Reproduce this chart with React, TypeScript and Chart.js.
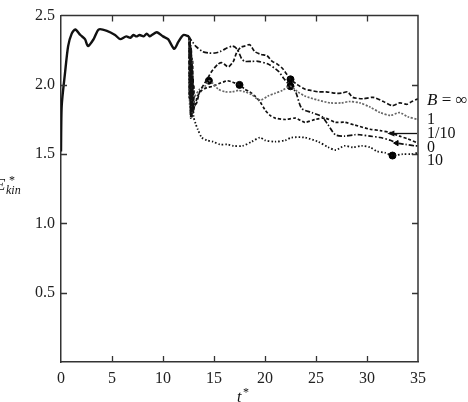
import React, { useEffect, useRef } from "react";
import { Chart, registerables } from "chart.js";

Chart.register(...registerables);

// ---- tick labels ----
const xTickValues = [0, 5, 10, 15, 20, 25, 30, 35];
const xTickLabels = ["0", "5", "10", "15", "20", "25", "30", "35"];
const yTickValues = [0.5, 1.0, 1.5, 2.0, 2.5];
const yTickLabels = ["0.5", "1.0", "1.5", "2.0", "2.5"];

// ---- common initial evolution ----
const mainT = [0, 0.07, 0.4, 0.7, 1.05, 1.4, 1.9, 2.35, 2.65, 3.2, 3.7, 4.5, 5.3, 5.8, 6.4, 6.8, 7.1, 7.4, 7.7, 8.1, 8.4, 8.7, 8.9, 9.4, 10.0, 10.5, 11.1, 11.5, 12.0, 12.55];
const mainE = [1.52, 1.85, 2.09, 2.28, 2.37, 2.40, 2.36, 2.33, 2.28, 2.33, 2.40, 2.39, 2.36, 2.33, 2.35, 2.34, 2.36, 2.35, 2.36, 2.35, 2.37, 2.35, 2.36, 2.38, 2.35, 2.33, 2.26, 2.31, 2.36, 2.35];

// ---- B = infinity ----
const infT = [12.55, 12.6, 12.65, 12.7, 12.75, 12.8, 12.85, 12.9, 12.95, 13.0, 13.1, 13.3, 13.6, 14.4, 14.8, 15.4, 15.8, 16.4, 16.9, 17.2, 17.6, 18.0, 18.5, 19.0, 19.6, 20.2, 20.7, 21.2, 21.7, 22.1, 22.5, 23.2, 23.9, 24.5, 25.2, 26.0, 26.9, 27.5, 28.1, 28.6, 29.6, 30.6, 31.6, 32.5, 33.2, 33.9, 34.4, 35];
const infE = [2.35, 1.90, 2.30, 1.80, 2.25, 1.78, 2.15, 1.80, 2.05, 1.82, 1.85, 1.87, 1.95, 2.05, 2.10, 2.15, 2.16, 2.13, 2.17, 2.23, 2.27, 2.28, 2.29, 2.24, 2.22, 2.21, 2.17, 2.15, 2.12, 2.08, 2.04, 2.00, 1.97, 1.96, 1.95, 1.95, 1.94, 1.94, 1.95, 1.91, 1.90, 1.91, 1.88, 1.85, 1.87, 1.86, 1.88, 1.90];

// ---- B = 1 ----
const oneT = [12.55, 12.62, 12.68, 12.74, 12.8, 12.86, 12.92, 13.0, 13.1, 13.6, 14.1, 14.5, 14.9, 15.4, 16.1, 16.8, 17.4, 18.0, 18.7, 19.2, 19.6, 20.3, 21.0, 21.7, 22.5, 23.2, 23.9, 25.2, 26.4, 27.5, 28.3, 29.3, 30.3, 31.3, 32.3, 33.2, 34.0, 35];
const oneE = [2.35, 1.85, 2.28, 1.80, 2.20, 1.79, 2.10, 1.86, 1.91, 1.97, 1.99, 2.03, 2.01, 1.97, 1.95, 1.95, 1.96, 1.95, 1.93, 1.90, 1.89, 1.92, 1.94, 1.96, 1.99, 1.95, 1.92, 1.89, 1.87, 1.87, 1.88, 1.87, 1.84, 1.80, 1.78, 1.80, 1.77, 1.75];

// ---- B = 1/10 ----
const tenthT = [12.55, 12.6, 12.66, 12.72, 12.78, 12.84, 12.9, 12.96, 13.02, 13.1, 13.4, 13.8, 14.3, 14.9, 15.5, 15.9, 16.3, 16.8, 17.5, 18.0, 18.5, 19.0, 19.5, 20.0, 20.5, 21.0, 22.0, 23.0, 23.9, 24.9, 25.9, 26.9, 27.8, 28.8, 30.3, 31.3, 32.3, 33.2, 34.0, 35];
const tenthE = [2.35, 1.92, 2.32, 1.76, 2.25, 1.77, 2.18, 1.80, 2.00, 1.85, 1.92, 1.96, 1.98, 1.99, 2.01, 2.02, 2.03, 2.02, 2.00, 1.97, 1.95, 1.92, 1.88, 1.82, 1.78, 1.76, 1.75, 1.76, 1.73, 1.75, 1.76, 1.73, 1.73, 1.71, 1.68, 1.67, 1.655, 1.63, 1.61, 1.58];

// ---- B = 0 ----
const zeroT = [12.55, 12.7, 12.9, 13.2, 13.9, 14.5, 15.1, 15.6, 16.1, 16.8, 17.1, 17.4, 17.7, 18.0, 18.7, 19.3, 20.3, 21.3, 21.8, 22.5, 23.0, 23.6, 24.6, 25.6, 26.2, 26.9, 27.8, 28.8, 29.3, 30.3, 31.3, 32.3, 32.9, 33.8, 34.7, 35];
const zeroE = [2.35, 2.33, 2.31, 2.28, 2.24, 2.23, 2.23, 2.24, 2.26, 2.28, 2.27, 2.24, 2.19, 2.17, 2.17, 2.17, 2.15, 2.10, 2.05, 1.99, 1.95, 1.83, 1.80, 1.77, 1.71, 1.64, 1.63, 1.64, 1.64, 1.63, 1.62, 1.60, 1.58, 1.57, 1.56, 1.56];

// ---- B = 10 ----
const tenT = [12.55, 12.6, 12.65, 12.7, 12.75, 12.8, 12.85, 12.9, 12.95, 13.0, 13.2, 13.4, 13.8, 14.3, 14.9, 15.6, 16.3, 16.9, 17.8, 18.7, 19.5, 20.0, 21.0, 22.0, 22.6, 23.9, 25.2, 26.2, 26.9, 27.8, 28.6, 29.5, 30.3, 31.0, 31.8, 32.5, 33.5, 34.3, 35];
const tenE = [2.35, 1.90, 2.33, 1.78, 2.28, 1.77, 2.20, 1.80, 2.00, 1.77, 1.72, 1.68, 1.62, 1.60, 1.59, 1.57, 1.57, 1.56, 1.56, 1.59, 1.62, 1.60, 1.59, 1.60, 1.62, 1.62, 1.59, 1.55, 1.53, 1.56, 1.55, 1.56, 1.55, 1.52, 1.51, 1.49, 1.50, 1.50, 1.51];

// ---- marker dots ----
const dotT = [14.5, 17.5, 22.5, 22.5, 32.5];
const dotE = [2.03, 2.00, 2.04, 1.99, 1.49];
const headT = [32.9];
const headE = [1.58];

// ---- curve labels on the right ----
const curveLabels = ["1", "1/10", "0", "10"];
const curveLabelE = [1.745, 1.65, 1.545, 1.45];
const infLabelE = 1.885;
const arrowE = 1.655;

const pts = (t: number[], e: number[]) => t.map((v, i) => ({ x: v, y: e[i] }));

const SERIF = "'Liberation Serif', 'DejaVu Serif', serif";

const decor = {
  id: "decor",
  afterDraw(chart: any) {
    const { ctx, chartArea: a, scales } = chart;
    const x = scales.x;
    const y = scales.y;
    ctx.save();
    ctx.strokeStyle = "#333";
    ctx.lineWidth = 1.5;
    ctx.beginPath();
    ctx.moveTo(a.left, a.top);
    ctx.lineTo(a.right, a.top);
    ctx.lineTo(a.right, a.bottom);
    ctx.stroke();
    ctx.lineWidth = 1.3;
    ctx.beginPath();
    for (const v of xTickValues) {
      if (v <= 0 || v >= 35) continue;
      const px = Math.round(x.getPixelForValue(v)) + 0.5;
      ctx.moveTo(px, a.bottom);
      ctx.lineTo(px, a.bottom - 6);
      ctx.moveTo(px, a.top);
      ctx.lineTo(px, a.top + 6);
    }
    for (const v of yTickValues) {
      if (v >= 2.5) continue;
      const py = Math.round(y.getPixelForValue(v)) + 0.5;
      ctx.moveTo(a.left, py);
      ctx.lineTo(a.left + 6, py);
      ctx.moveTo(a.right, py);
      ctx.lineTo(a.right - 6, py);
    }
    ctx.stroke();

    // arrow
    const ay = Math.round(y.getPixelForValue(arrowE)) + 0.5;
    const ax0 = a.right - 1;
    const ax1 = x.getPixelForValue(32.0);
    ctx.strokeStyle = "#111";
    ctx.fillStyle = "#111";
    ctx.lineWidth = 1.3;
    ctx.beginPath();
    ctx.moveTo(ax0, ay);
    ctx.lineTo(ax1 + 5, ay);
    ctx.stroke();
    ctx.beginPath();
    ctx.moveTo(ax1, ay);
    ctx.lineTo(ax1 + 7, ay - 3);
    ctx.lineTo(ax1 + 7, ay + 3);
    ctx.closePath();
    ctx.fill();

    // right labels
    ctx.fillStyle = "#111";
    ctx.textBaseline = "middle";
    ctx.textAlign = "left";
    const lx = a.right + 9;
    const iy = y.getPixelForValue(infLabelE);
    ctx.font = `italic 17px ${SERIF}`;
    ctx.fillText("B", lx, iy);
    const bw = ctx.measureText("B").width;
    ctx.font = `17px ${SERIF}`;
    ctx.fillText(" = ∞", lx + bw, iy);
    ctx.font = `16px ${SERIF}`;
    curveLabels.forEach((s, i) => {
      ctx.fillText(s, lx, y.getPixelForValue(curveLabelE[i]));
    });

    // axis titles
    ctx.textBaseline = "alphabetic";
    ctx.font = `italic 16px ${SERIF}`;
    ctx.fillText("t", 237, 402);
    ctx.font = `12px ${SERIF}`;
    ctx.fillText("*", 243, 396);

    ctx.font = `italic 17px ${SERIF}`;
    ctx.fillText("E", -5, 190);
    ctx.font = `12px ${SERIF}`;
    ctx.fillText("*", 9, 184);
    ctx.font = `italic 12px ${SERIF}`;
    ctx.fillText("kin", 6, 194);
    ctx.restore();
  },
};

export default function App() {
  const ref = useRef<HTMLCanvasElement | null>(null);
  useEffect(() => {
    if (!ref.current) return;
    const line = (t: number[], e: number[], color: string, width: number, dash: number[]) => ({
      type: "line" as const,
      data: pts(t, e),
      borderColor: color,
      borderWidth: width,
      borderDash: dash,
      pointRadius: 0,
      tension: 0.25,
      fill: false,
    });
    const chart = new Chart(ref.current, {
      type: "line",
      data: {
        datasets: [
          line(mainT, mainE, "#111", 2.4, []),
          line(infT, infE, "#111", 1.7, [4, 2]),
          line(oneT, oneE, "#666", 1.7, [2, 1.5]),
          line(tenthT, tenthE, "#111", 1.7, [3, 2]),
          line(zeroT, zeroE, "#111", 1.7, [5, 2, 1.5, 2]),
          line(tenT, tenE, "#111", 1.8, [1.5, 2]),
          {
            type: "scatter" as const,
            data: pts(dotT, dotE),
            backgroundColor: "#000",
            borderColor: "#000",
            pointRadius: 3.5,
            showLine: false,
          } as any,
          {
            type: "scatter" as const,
            data: pts(headT, headE),
            backgroundColor: "#000",
            borderColor: "#000",
            pointStyle: "triangle",
            rotation: 270,
            pointRadius: 3,
            showLine: false,
          } as any,
        ],
      },
      options: {
        animation: false,
        responsive: false,
        parsing: false as any,
        layout: { padding: { left: 0, right: 50, top: 9, bottom: 0 } },
        plugins: { legend: { display: false }, tooltip: { enabled: false } },
        scales: {
          x: {
            type: "linear",
            min: 0,
            max: 35,
            grid: { display: false, drawTicks: false },
            border: { display: true, color: "#333", width: 1.5 },
            afterBuildTicks: (s: any) => {
              s.ticks = xTickValues.map((v) => ({ value: v }));
            },
            afterFit: (s: any) => {
              s.height = 40;
            },
            ticks: {
              padding: 7,
              color: "#222",
              font: { family: SERIF, size: 16 },
              maxRotation: 0,
              autoSkip: false,
              callback: (v: any) => xTickLabels[xTickValues.indexOf(Number(v))] ?? "",
            },
          },
          y: {
            type: "linear",
            min: 0,
            max: 2.5,
            grid: { display: false, drawTicks: false },
            border: { display: true, color: "#333", width: 1.5 },
            afterBuildTicks: (s: any) => {
              s.ticks = yTickValues.map((v) => ({ value: v }));
            },
            afterFit: (s: any) => {
              s.width = 61;
            },
            ticks: {
              padding: 6,
              color: "#222",
              font: { family: SERIF, size: 16 },
              autoSkip: false,
              callback: (v: any) => {
                const i = yTickValues.findIndex((t) => Math.abs(t - Number(v)) < 1e-9);
                return i >= 0 ? yTickLabels[i] : "";
              },
            },
          },
        },
      },
      plugins: [decor],
    } as any);
    return () => chart.destroy();
  }, []);
  return (
    <div style={{ position: "fixed", left: 0, top: 0, width: 468, height: 402, background: "#fff" }}>
      <canvas ref={ref} width={468} height={402} style={{ display: "block" }} />
    </div>
  );
}
